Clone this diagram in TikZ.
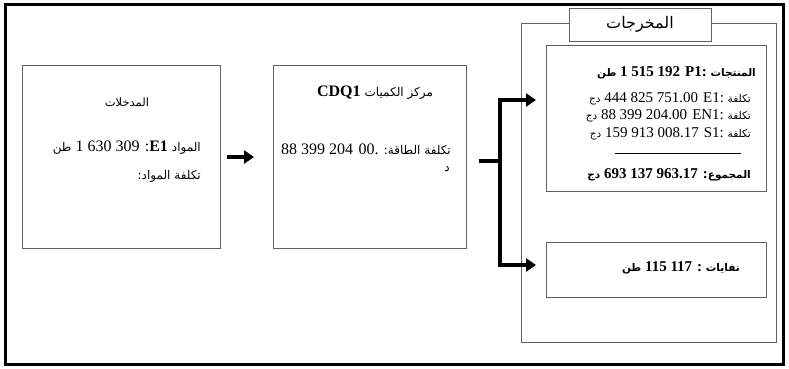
\documentclass[tikz,border=0pt]{standalone}
\usepackage{fontspec}
\setmainfont{Liberation Serif}
\newfontfamily\arabicfont[Script=Arabic]{DejaVu Sans}
\TeXXeTstate=1
\usetikzlibrary{arrows.meta}

\tikzset{
  box/.style={draw=gray!75!black, line width=1pt, inner sep=0pt, anchor=north west},
  flow/.style={line width=3.5pt, -{Triangle[length=10pt,width=13pt]}},
  row/.style={anchor=east, inner sep=0pt, font=\fontsize{15}{17}\selectfont},
}
\newcommand{\ar}[1]{{\arabicfont\fontsize{12}{14}\selectfont #1}}
\newcommand{\arsm}[1]{{\arabicfont\fontsize{10.5}{12}\selectfont #1}}

\begin{document}
\begin{tikzpicture}[x=1pt, y=-1pt]
  \useasboundingbox (0,0) rectangle (789,368);
  % Outer frame
  \draw[line width=3pt] (5.5,4.5) rectangle (783.5,364.5);

  % Boxes
  \node[box, minimum width=198pt, minimum height=183pt] (in) at (22,65) {};
  \node[box, minimum width=193pt, minimum height=183pt] (cdq) at (273,65) {};
  \node[box, minimum width=255pt, minimum height=319pt] (out) at (521,23) {};
  \node[box, minimum width=142pt, minimum height=33pt, fill=white,
        anchor=center, font=\arabicfont\fontsize{16}{18}\selectfont] (outtitle) at (640,24.5) {\beginR المخرجات\endR};
  \node[box, minimum width=220pt, minimum height=146pt] (prod) at (546,45) {};
  \node[box, minimum width=220pt, minimum height=55pt] (waste) at (546,242) {};

  % Inputs
  \node[font=\arabicfont\fontsize{11.5}{13}\selectfont] (intitle) at (127,102) {\beginR المدخلات\endR};
  \node[row, font=\fontsize{16}{18}\selectfont] (inmat) at (201,148)
    {\beginR\ar{المواد} \textbf{E1}: 309 630 1 \ar{طن}\endR};
  \node[row] (incost) at (201,176) {\ar{\beginR تكلفة المواد:\endR}};

  % Quantity centre
  \node[font=\fontsize{16}{18}\selectfont] (cdqtitle) at (375,93)
    {\beginR\ar{مركز الكميات} \textbf{CDQ1}\endR};
  \node[row, font=\fontsize{16}{18}\selectfont] (cdqcost) at (451,149)
    {\beginR\ar{تكلفة الطاقة:} 00. 204 399 88\endR};
  \node[row] (cdqunit) at (450,169) {\ar{\beginR د\endR}};

  % Products
  \node[row, font=\bfseries\fontsize{15}{17}\selectfont] (p1) at (756,73)
    {\beginR\arsm{المنتجات} P1: 192 515 1 \arsm{طن}\endR};
  \node[row] (e1) at (751,99) {\beginR\arsm{تكلفة} E1: 751.00 825 444 \arsm{دج}\endR};
  \node[row] (en1) at (751,116) {\beginR\arsm{تكلفة} EN1: 204.00 399 88 \arsm{دج}\endR};
  \node[row] (s1) at (751,134) {\beginR\arsm{تكلفة} S1: 008.17 913 159 \arsm{دج}\endR};
  \draw[line width=0.8pt] (615,153) -- (741,153);
  \node[row, font=\bfseries\fontsize{15}{17}\selectfont] (total) at (751,175)
    {\beginR\arsm{المجموع}: 963.17 137 693 \arsm{دج}\endR};

  % Waste
  \node[row, font=\bfseries\fontsize{15}{17}\selectfont] (w) at (740,268)
    {\beginR\arsm{نفايات} : 117 115 \arsm{طن}\endR};

  % Connectors
  \coordinate (stub) at (479,161);
  \coordinate (fork) at (500,161);
  \draw[flow] ([xshift=6pt]in.east) -- ([xshift=-19pt]cdq.west);
  \draw[line width=3.5pt] (stub) -- (fork);
  \draw[flow] (fork) |- ([xshift=-10pt,yshift=-55pt]prod.north west);
  \draw[flow] (fork) |- ([xshift=-10pt,yshift=5pt]waste.west);
\end{tikzpicture}
\end{document}
